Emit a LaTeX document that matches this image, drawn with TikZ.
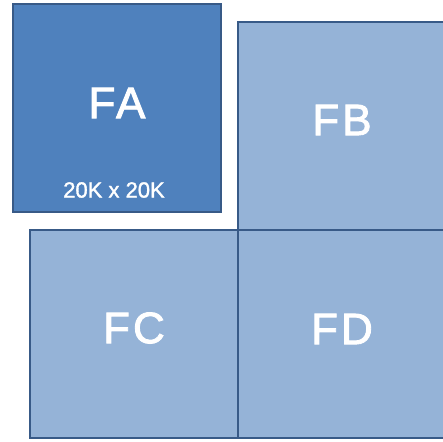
\documentclass[tikz,border=0pt]{standalone}
\usepackage{fontspec}
\setmainfont{Liberation Sans}
\newfontfamily\tilefont[LetterSpace=7,FakeBold=2]{Liberation Sans}
\newfontfamily\sizefont[FakeBold=1.5]{Liberation Sans}
\usetikzlibrary{positioning}
\definecolor{tiledark}{RGB}{79,129,189}
\definecolor{tilelight}{RGB}{149,179,215}
\definecolor{tileedge}{RGB}{56,90,135}
\tikzset{
  tile/.style={draw=tileedge,line width=1.6pt,fill=tilelight,
               minimum width=208pt,minimum height=208pt,inner sep=0pt},
  maintile/.style={tile,fill=tiledark},
  tilename/.style={text=white,inner sep=0pt,font=\tilefont\fontsize{44}{44}\selectfont},
  tilesize/.style={text=white,inner sep=0pt,font=\sizefont\fontsize{22}{22}\selectfont},
}

\begin{document}
\begin{tikzpicture}[x=1pt,y=-1pt]
  \useasboundingbox (0,0) rectangle (443,441);
  % the four tiles
  \node[tile] (fb) at (342,126) {};
  \node[tile] (fc) at (134,334) {};
  \node[tile] (fd) at (342,334) {};
  \node[maintile] (fa) at (117,108) {};
  % names
  \node[tilename] (fa-name) at ([yshift=5pt]fa.center) {FA};
  \node[tilename] (fb-name) at ([yshift=6pt]fb.center) {FB};
  \node[tilename] (fc-name) at ([yshift=6pt]fc.center) {FC};
  \node[tilename] (fd-name) at ([yshift=5pt]fd.center) {FD};
  \node[tilesize] (fa-size) at ([xshift=-3pt,yshift=-82pt]fa.center) {20K x 20K};
\end{tikzpicture}
\end{document}
